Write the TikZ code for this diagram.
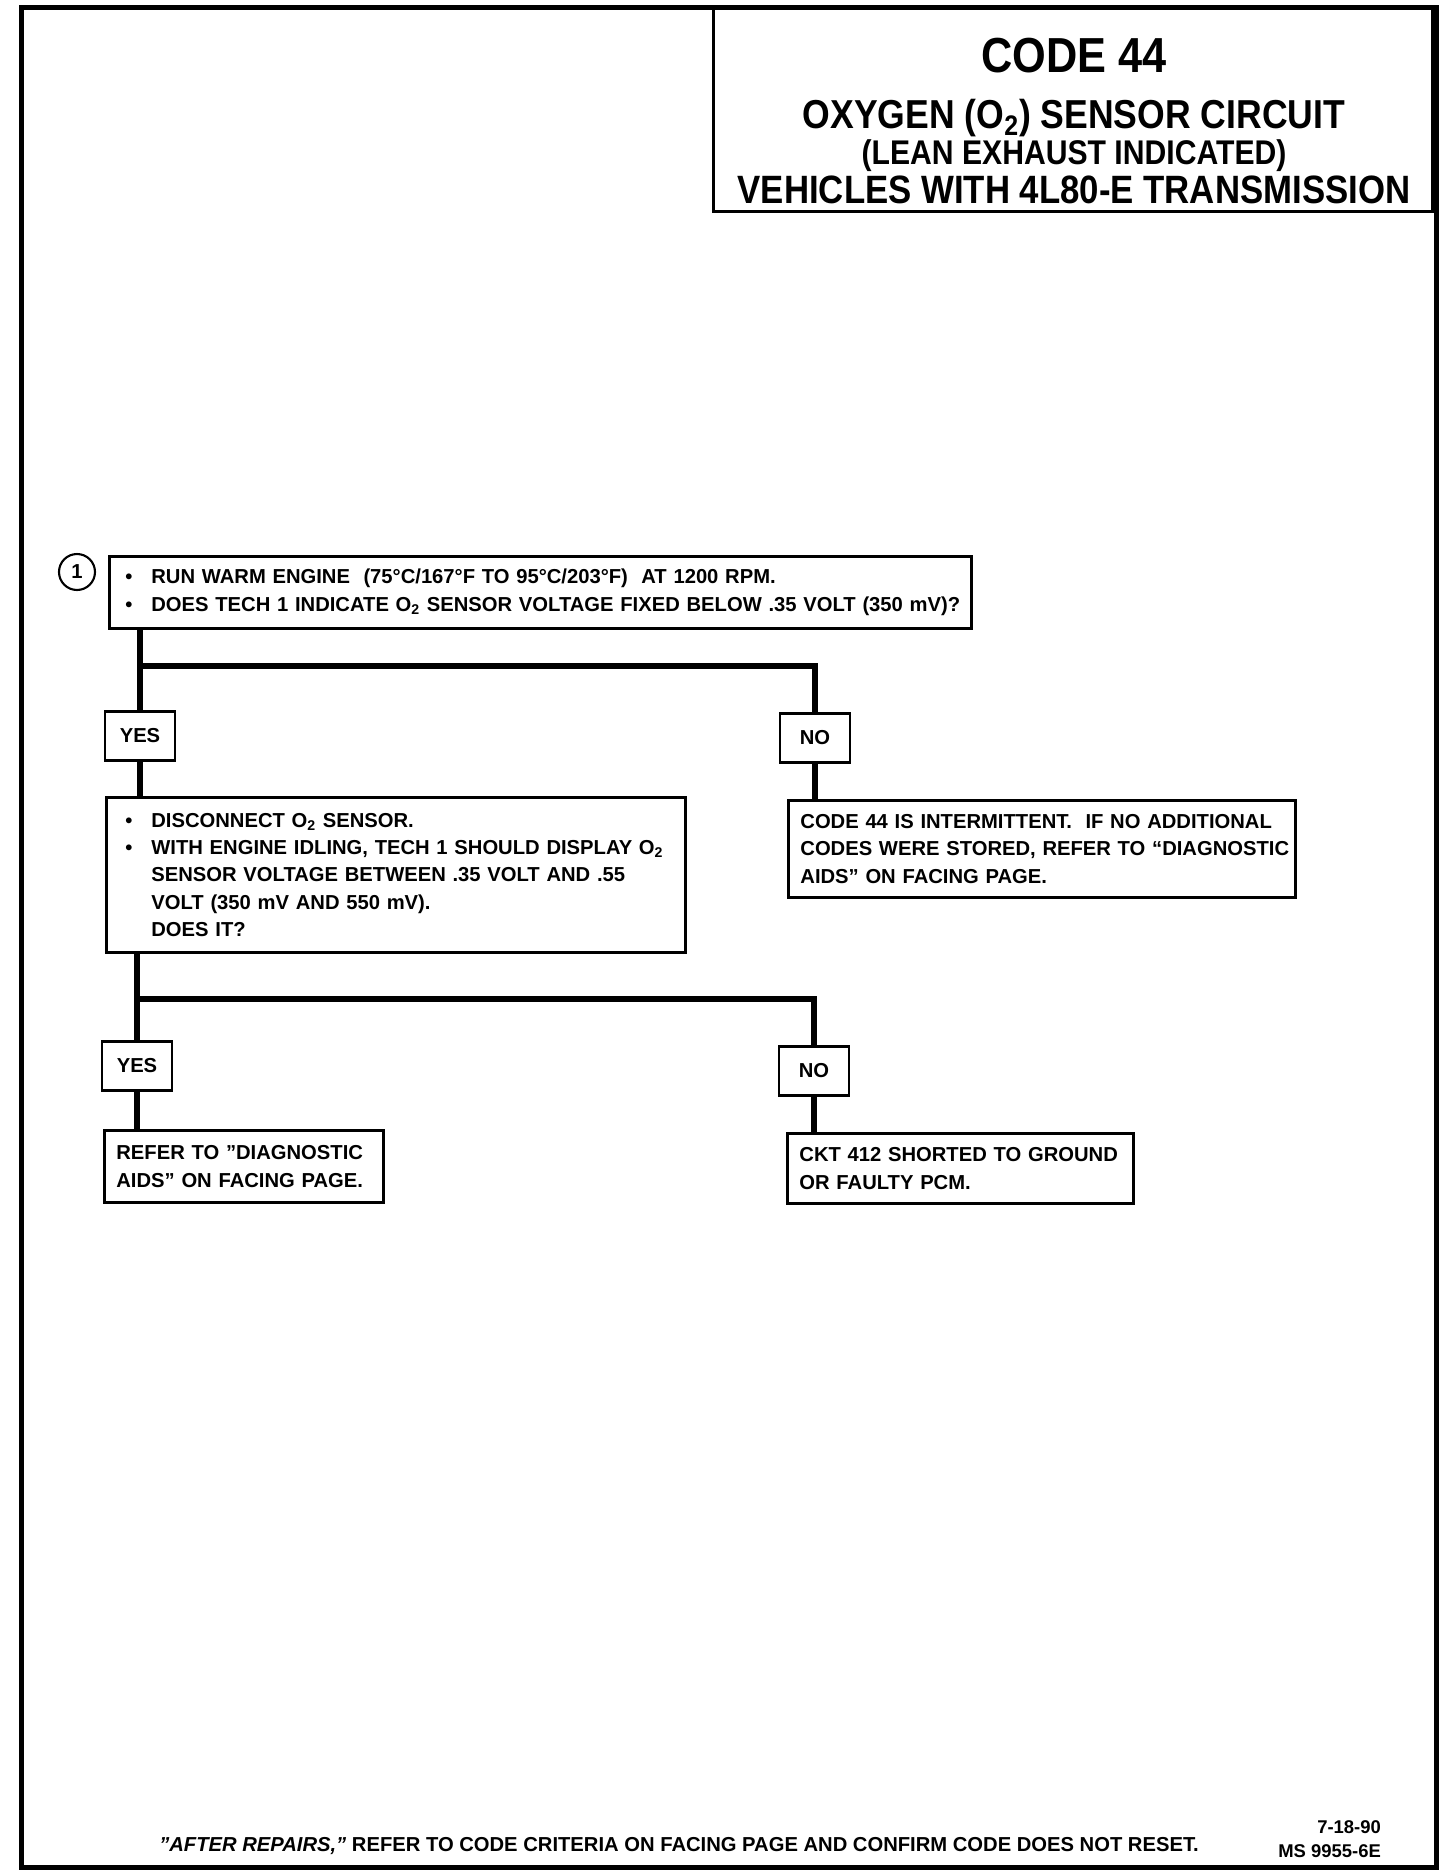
\documentclass[tikz,border=0pt]{standalone}
\usepackage{fontspec}
\setmainfont{Liberation Sans}
\newfontfamily\headfont{Liberation Sans}[FakeStretch=0.88]
\usepackage{tikz}
\usetikzlibrary{positioning}

\newcommand{\bodyfont}{\fontsize{11.5}{15.6}\selectfont\bfseries}
\newcommand{\bul}{\makebox[0.52cm][l]{\textbullet}}
\newcommand{\ind}{\hspace*{0.52cm}}
\newcommand{\Otwo}{O\textsubscript{2}}

\begin{document}
\begin{tikzpicture}[x=0.02cm, y=-0.02cm,
    stepbox/.style={draw, line width=1.6pt, anchor=north west, align=left, inner xsep=0pt, inner ysep=0pt, font=\bodyfont},
    pad/.style={execute at begin node={\leftskip=#1}},
    answer/.style={draw, line width=1.6pt, minimum width=1.4cm, minimum height=0.98cm, inner sep=0pt, font=\bodyfont},
    heading/.style={inner sep=0pt, font={\headfont\bfseries\fontsize{#1}{#1}\selectfont}},
    wire/.style={line width=3.4pt, line join=miter}]
    \useasboundingbox (0,0) rectangle (1456,1876);

    % page frame and title block
    \node (frame) [draw, line width=2.8pt, anchor=north west, minimum width=28.3cm, minimum height=37.2cm, inner sep=0pt] at (19,5) {};
    \node (titlebox) [draw, line width=1.6pt, anchor=north east, minimum width=14.38cm, minimum height=4.1cm, inner sep=0pt] at (1434,5) {};
    \node (code) [heading=28] at (1074,56) {CODE 44};
    \node (circuit) [heading=23] at (1074,118) {OXYGEN (\Otwo) SENSOR CIRCUIT};
    \node (lean) [heading=19.5] at (1074,156) {(LEAN EXHAUST INDICATED)};
    \node (vehicles) [heading=22.5] at (1074,190) {VEHICLES WITH 4L80-E TRANSMISSION};

    % chart
    \node (stepone) [draw, circle, line width=1.2pt, minimum size=0.72cm, inner sep=0pt, font=\bodyfont] at (77,572) {1};
    \node (check) [stepbox, pad=0.32cm, text width=17.24cm, minimum height=1.44cm] at (108,555)
        {\bul RUN WARM ENGINE \ (75°C/167°F TO 95°C/203°F) \ AT 1200 RPM.\\
         \bul DOES TECH 1 INDICATE \Otwo{} SENSOR VOLTAGE FIXED BELOW .35 VOLT (350 mV)?};

    \node (yesA) [answer] at (140,736) {YES};
    \node (noA) [answer] at (815,738) {NO};

    \node (idle) [stepbox, pad=0.38cm, text width=11.58cm, minimum height=3.1cm] at (105,796)
        {\bul DISCONNECT \Otwo{} SENSOR.\\
         \bul WITH ENGINE IDLING, TECH 1 SHOULD DISPLAY \Otwo\\
         \ind SENSOR VOLTAGE BETWEEN .35 VOLT AND .55\\
         \ind VOLT (350 mV AND 550 mV).\\
         \ind DOES IT?};
    \node (intermit) [stepbox, pad=0.24cm, text width=10.14cm, minimum height=1.94cm] at (787,799)
        {CODE 44 IS INTERMITTENT. \ IF NO ADDITIONAL\\
         CODES WERE STORED, REFER TO “DIAGNOSTIC\\
         AIDS” ON FACING PAGE.};

    \node (yesB) [answer] at (137,1066) {YES};
    \node (noB) [answer] at (814,1071) {NO};

    \node (aids) [stepbox, pad=0.24cm, text width=5.58cm, minimum height=1.44cm] at (103,1129)
        {REFER TO "DIAGNOSTIC\\ AIDS" ON FACING PAGE.};
    \node (shorted) [stepbox, pad=0.24cm, text width=6.92cm, minimum height=1.4cm] at (786,1132)
        {CKT 412 SHORTED TO GROUND\\ OR FAULTY PCM.};

    \coordinate (forkA) at (140,666);
    \coordinate (forkB) at (137,999);
    \draw [wire] (check.south -| yesA.north) -- (yesA.north);
    \draw [wire] (forkA) -| (noA.north);
    \draw [wire] (yesA.south) -- (yesA.south |- idle.north);
    \draw [wire] (noA.south) -- (noA.south |- intermit.north);
    \draw [wire] (idle.south -| yesB.north) -- (yesB.north);
    \draw [wire] (forkB) -| (noB.north);
    \draw [wire] (yesB.south) -- (yesB.south |- aids.north);
    \draw [wire] (noB.south) -- (noB.south |- shorted.north);

    % footer
    \node (afterrep) [font=\bodyfont] at (679,1846)
        {\textit{"AFTER REPAIRS,"} REFER TO CODE CRITERIA ON FACING PAGE AND CONFIRM CODE DOES NOT RESET.};
    \node (date) [font={\fontsize{10.5}{12}\selectfont\bfseries}, inner sep=1pt, anchor=east] at (1383,1827) {7-18-90};
    \node (msnum) [font={\fontsize{10.5}{12}\selectfont\bfseries}, inner sep=1pt, below=0.13cm of date.south east, anchor=north east] {MS 9955-6E};
\end{tikzpicture}
\end{document}
